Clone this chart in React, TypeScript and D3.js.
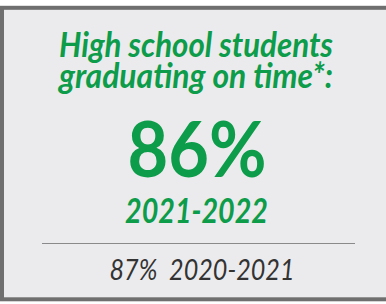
import React, { useEffect, useRef } from 'react';
import * as d3 from 'd3';

// headline + current / previous values
const titleLines = ['High school students', 'graduating on time*:'];
const years = ['2021-2022', '2020-2021'];
const values = [86, 87];

const W = 386;
const H = 304;
const GREEN = '#0c9c4a';

const App: React.FC = () => {
    const svgRef = useRef<SVGSVGElement>(null);

    useEffect(() => {
        if (!svgRef.current) return;
        const svg = d3.select(svgRef.current);
        svg.selectAll('*').remove();

        const font = 'Lato, "Open Sans", sans-serif';
        const fmt = (v: number) => `${v}%`;

        // card
        svg.append('rect')
            .attr('width', W).attr('height', H)
            .attr('fill', '#ffffff');
        svg.append('rect')
            .attr('x', 2).attr('y', 7.8)
            .attr('width', W + 20).attr('height', 291.5)
            .attr('fill', '#ebebed')
            .attr('stroke', '#6f6f6f')
            .attr('stroke-width', 4);

        const cx = 196;

        // title
        const titleY = d3.scalePoint<string>().domain(titleLines).range([57, 88]);
        svg.selectAll('.title')
            .data(titleLines)
            .enter().append('text')
            .attr('class', 'title')
            .attr('x', cx)
            .attr('y', d => titleY(d) as number)
            .attr('text-anchor', 'middle')
            .attr('fill', GREEN)
            .attr('font-family', font)
            .attr('font-weight', 700)
            .attr('font-style', 'italic')
            .attr('font-size', 34)
            .attr('textLength', 274)
            .attr('lengthAdjust', 'spacingAndGlyphs')
            .text(d => d);

        // big number
        svg.append('text')
            .attr('x', 197).attr('y', 177)
            .attr('text-anchor', 'middle')
            .attr('fill', GREEN)
            .attr('font-family', font)
            .attr('font-weight', 700)
            .attr('font-size', 76)
            .attr('textLength', 139)
            .attr('lengthAdjust', 'spacingAndGlyphs')
            .text(fmt(values[0]));

        svg.append('text')
            .attr('x', 196.5).attr('y', 223)
            .attr('text-anchor', 'middle')
            .attr('fill', GREEN)
            .attr('font-family', font)
            .attr('font-weight', 700)
            .attr('font-style', 'italic')
            .attr('font-size', 35)
            .attr('textLength', 143)
            .attr('lengthAdjust', 'spacingAndGlyphs')
            .text(years[0]);

        // divider
        svg.append('line')
            .attr('x1', 42).attr('x2', 355)
            .attr('y1', 243.5).attr('y2', 243.5)
            .attr('stroke', '#8a8a8a')
            .attr('stroke-width', 1.2);

        // previous year
        svg.append('text')
            .attr('x', 202).attr('y', 280)
            .attr('text-anchor', 'middle')
            .attr('fill', '#333333')
            .attr('font-family', font)
            .attr('font-style', 'italic')
            .attr('font-size', 28)
            .attr('textLength', 185)
            .attr('lengthAdjust', 'spacingAndGlyphs')
            .attr('xml:space', 'preserve')
            .style('white-space', 'pre')
            .text(`${fmt(values[1])}  ${years[1]}`);
    }, []);

    return (
        <svg
            ref={svgRef}
            width={W}
            height={H}
            style={{ position: 'absolute', left: 0, top: 0, display: 'block' }}
        />
    );
};

export default App;
